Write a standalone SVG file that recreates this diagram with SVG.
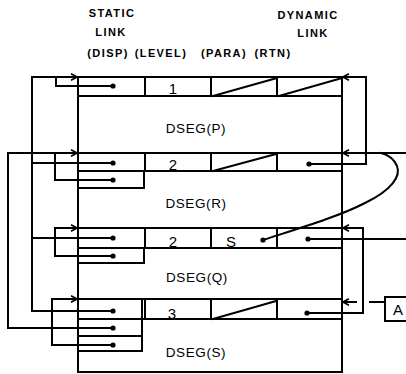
<svg xmlns="http://www.w3.org/2000/svg" width="406" height="374" viewBox="0 0 406 374">
<defs>
<style>
.ln{fill:none;stroke:#000;stroke-width:2;stroke-linejoin:miter;stroke-linecap:square}
.lbl{font-family:"Liberation Sans",Arial,sans-serif;font-size:11px;font-weight:bold;letter-spacing:1.4px;fill:#000;text-anchor:middle}
.seg{font-family:"Liberation Sans",Arial,sans-serif;font-size:13.5px;letter-spacing:0.6px;fill:#000;text-anchor:middle}
.num{font-family:"Liberation Sans",Arial,sans-serif;font-size:15px;fill:#000;text-anchor:middle}
.dot{fill:#000}
</style>
<marker id="arr" viewBox="0 0 10 10" refX="9.5" refY="5" markerWidth="8" markerHeight="8" markerUnits="userSpaceOnUse" orient="auto">
<path d="M2,1 L9.5,5 L2,9" fill="none" stroke="#000" stroke-width="2"/>
</marker>
</defs>
<rect width="406" height="374" fill="#fff"/>

<g id="header-labels">
<text class="lbl" x="112" y="17">STATIC</text>
<text class="lbl" x="111" y="36">LINK</text>
<text class="lbl" x="108" y="57">(DISP)</text>
<text class="lbl" x="161" y="57">(LEVEL)</text>
<text class="lbl" x="224" y="57">(PARA)</text>
<text class="lbl" x="273" y="57">(RTN)</text>
<text class="lbl" x="308" y="19">DYNAMIC</text>
<text class="lbl" x="313" y="37">LINK</text>
</g>

<g id="frame-P">
<rect class="ln" x="78" y="77" width="264" height="76"/>
<path class="ln" d="M78,96 H342 M145,77 V96 M211,77 V96 M277,77 V96 M213,96 L277,78 M279,96 L342,78"/>
<text class="num" x="173" y="94">1</text>
<text class="seg" x="196" y="133">DSEG(P)</text>
</g>

<g id="frame-R">
<rect class="ln" x="78" y="153" width="264" height="75"/>
<path class="ln" d="M78,171 H342 M144,171 V188 H78 M145,153 V171 M211,153 V171 M277,153 V171 M213,171 L276,154"/>
<text class="num" x="173" y="170">2</text>
<text class="seg" x="196" y="208">DSEG(R)</text>
</g>

<g id="frame-Q">
<rect class="ln" x="78" y="228" width="264" height="71"/>
<path class="ln" d="M78,248 H342 M144,248 V263 H78 M145,228 V248 M211,228 V248 M277,228 V248"/>
<text class="num" x="173" y="247">2</text>
<text class="num" x="231" y="247">S</text>
<text class="seg" x="197" y="282">DSEG(Q)</text>
</g>

<g id="frame-S">
<rect class="ln" x="78" y="299" width="264" height="73"/>
<path class="ln" d="M78,319 H342 M142,299 V351 H78 M78,336 H142 M145,299 V319 M211,299 V319 M277,299 V319 M213,319 L276,301"/>
<text class="num" x="172" y="319">3</text>
<text class="seg" x="196" y="357">DSEG(S)</text>
</g>

<g id="node-A">
<rect class="ln" x="385" y="297" width="26" height="24"/>
<text class="num" x="398" y="315">A</text>
</g>

<g id="connectors">
<!-- static links to P -->
<path class="ln" d="M113,311 H32 V77 H77" marker-end="url(#arr)"/>
<path class="ln" d="M113,86 H56 V77"/>
<path class="ln" d="M32,163 H113 M32,238 H113"/>
<!-- static links to R -->
<path class="ln" d="M113,328 H8 V153 H77" marker-end="url(#arr)"/>
<path class="ln" d="M113,180 H55 V153"/>
<!-- static link to Q -->
<path class="ln" d="M113,256 H55 V228 H77" marker-end="url(#arr)"/>
<!-- static link to S -->
<path class="ln" d="M113,345 H52 V299 H77" marker-end="url(#arr)"/>
<!-- dynamic links -->
<path class="ln" d="M309,164 H366 V77 H343" marker-end="url(#arr)"/>
<path class="ln" d="M406,153 H343" marker-end="url(#arr)"/>
<path class="ln" d="M263,240 C300,228 340,216 365,203 C392,190 401,176 397,166 C394,159 389,155 381,153"/>
<path class="ln" d="M308,239 H406"/>
<path class="ln" d="M307,313 H363 V228 H343" marker-end="url(#arr)"/>
<path class="ln" d="M385,302 H370"/>
<path class="ln" d="M356,302 H343" marker-end="url(#arr)"/>
<circle class="dot" cx="113" cy="86" r="2.6"/>
<circle class="dot" cx="113" cy="163" r="2.6"/>
<circle class="dot" cx="113" cy="180" r="2.6"/>
<circle class="dot" cx="113" cy="238" r="2.6"/>
<circle class="dot" cx="113" cy="256" r="2.6"/>
<circle class="dot" cx="113" cy="311" r="2.6"/>
<circle class="dot" cx="113" cy="328" r="2.6"/>
<circle class="dot" cx="113" cy="345" r="2.6"/>
<circle class="dot" cx="309" cy="164" r="2.6"/>
<circle class="dot" cx="263" cy="240" r="2.6"/>
<circle class="dot" cx="308" cy="239" r="2.6"/>
<circle class="dot" cx="307" cy="313" r="2.6"/>
</g>
</svg>
